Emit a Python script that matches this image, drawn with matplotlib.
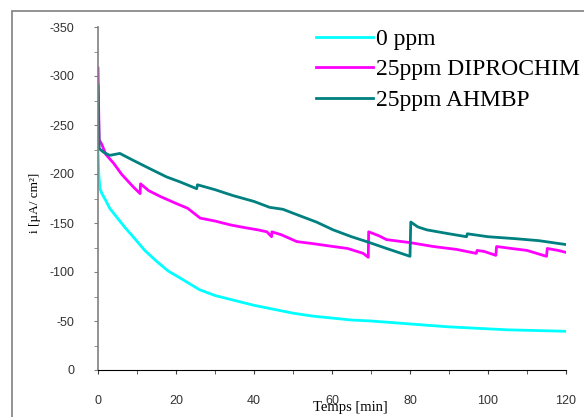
import matplotlib.pyplot as plt
from matplotlib.patches import Rectangle
from matplotlib.ticker import MultipleLocator

plt.rcParams['axes.unicode_minus'] = False

# Data (time in min, current density in uA/cm2)
t_0ppm = [0, 0.2, 0.5, 1, 2, 3, 5, 7, 9, 12, 15, 18, 21, 26, 30, 34, 40, 45, 50, 55,
          60, 65, 70, 75, 80, 85, 90, 95, 100, 105, 110, 115, 120]
i_0ppm = [-225, -200, -185, -180, -173, -165, -155, -145, -136, -122, -111, -101, -94, -82,
          -76, -72, -66, -62, -58, -55, -53, -51, -50, -48.5, -47, -45.5, -44, -43, -42,
          -41, -40.5, -40, -39.5]

t_diprochim = [0, 0.3, 1, 2, 4, 6, 9, 10.8, 10.9, 13, 16, 20, 23, 26.2, 30, 34, 38, 41, 43.3,
               44.5, 44.6, 47, 51, 55, 60.3, 64, 68, 69.3, 69.4, 72, 74, 80, 86, 92, 97,
               97.2, 99, 102, 102.2, 106, 110, 115, 115.2, 118, 120]
i_diprochim = [-308, -235, -230, -220, -211, -200, -187, -180, -190, -183, -177, -170, -165,
               -155, -152, -148, -145, -143, -141, -136, -141, -138, -131, -129, -126, -124,
               -119, -115, -141, -137, -133, -130, -126, -123, -119, -122, -121, -117, -126,
               -124, -122, -116, -124, -122, -120]

t_ahmbp = [0, 0.3, 1.5, 3, 5.6, 9, 13, 17.6, 21, 25.3, 25.5, 30, 34.6, 40, 44, 47.4, 52, 56,
           60.3, 65, 68.9, 74, 80, 80.2, 82, 84.3, 90, 94.5, 94.7, 100, 107, 113, 120]
i_ahmbp = [-290, -226, -222, -219, -221, -214, -206, -197, -192, -185, -189, -184, -178, -172,
           -166, -164, -157, -151, -143, -136, -131, -124, -116, -151, -146, -143, -139, -136,
           -139, -136, -134, -132, -128]

fig = plt.figure(figsize=(5.84, 4.17), dpi=100)
ax = fig.add_axes([98 / 584, 1 - 370 / 417, 468 / 584, 343 / 417])

ax.plot(t_0ppm, i_0ppm, color='#00ffff', lw=2, label='0 ppm')
ax.plot(t_diprochim, i_diprochim, color='#ff00ff', lw=2, label='25ppm DIPROCHIM')
ax.plot(t_ahmbp, i_ahmbp, color='#008080', lw=2, label='25ppm AHMBP')

ax.set_xlim(0, 120)
ax.set_ylim(0, -350)
ax.xaxis.set_major_locator(MultipleLocator(20))
ax.xaxis.set_minor_locator(MultipleLocator(10))
ax.yaxis.set_major_locator(MultipleLocator(50))
ax.yaxis.set_minor_locator(MultipleLocator(25))

for s in ['top', 'right']:
    ax.spines[s].set_visible(False)
ax.spines['left'].set_color('#808080')
ax.spines['left'].set_linewidth(1.2)
ax.spines['bottom'].set_color('black')

ax.tick_params(axis='y', which='both', direction='out', length=3, color='#808080',
               pad=14, labelsize=9, labelcolor='#333333')
ax.tick_params(axis='x', which='both', direction='out', length=3, color='#404040',
               pad=15, labelsize=9, labelcolor='#333333')
for lab in ax.get_xticklabels() + ax.get_yticklabels():
    lab.set_family('Liberation Sans')

leg = ax.legend(loc='upper left', bbox_to_anchor=(0.466, 0.996), frameon=False,
                prop={'family': 'Liberation Serif', 'size': 17}, handlelength=2.4,
                handletextpad=0.15, labelspacing=0.38, borderpad=0, borderaxespad=0)

fig.text(350 / 584, 1 - 408 / 417, 'Temps [min]', family='Liberation Serif', fontsize=10.5,
         ha='center', va='center')
fig.text(35 / 584, 1 - 203 / 417, 'i [µA/ cm²]', family='Liberation Serif', fontsize=9.5,
         ha='center', va='center', rotation=90)

# figure border
fig.patches.append(Rectangle((12 / 584, -0.2), 1.2, 1 - 11 / 417 + 0.2,
                             transform=fig.transFigure, fill=False, ec='#808080', lw=1.2))

fig.savefig('out.png', dpi=100)
